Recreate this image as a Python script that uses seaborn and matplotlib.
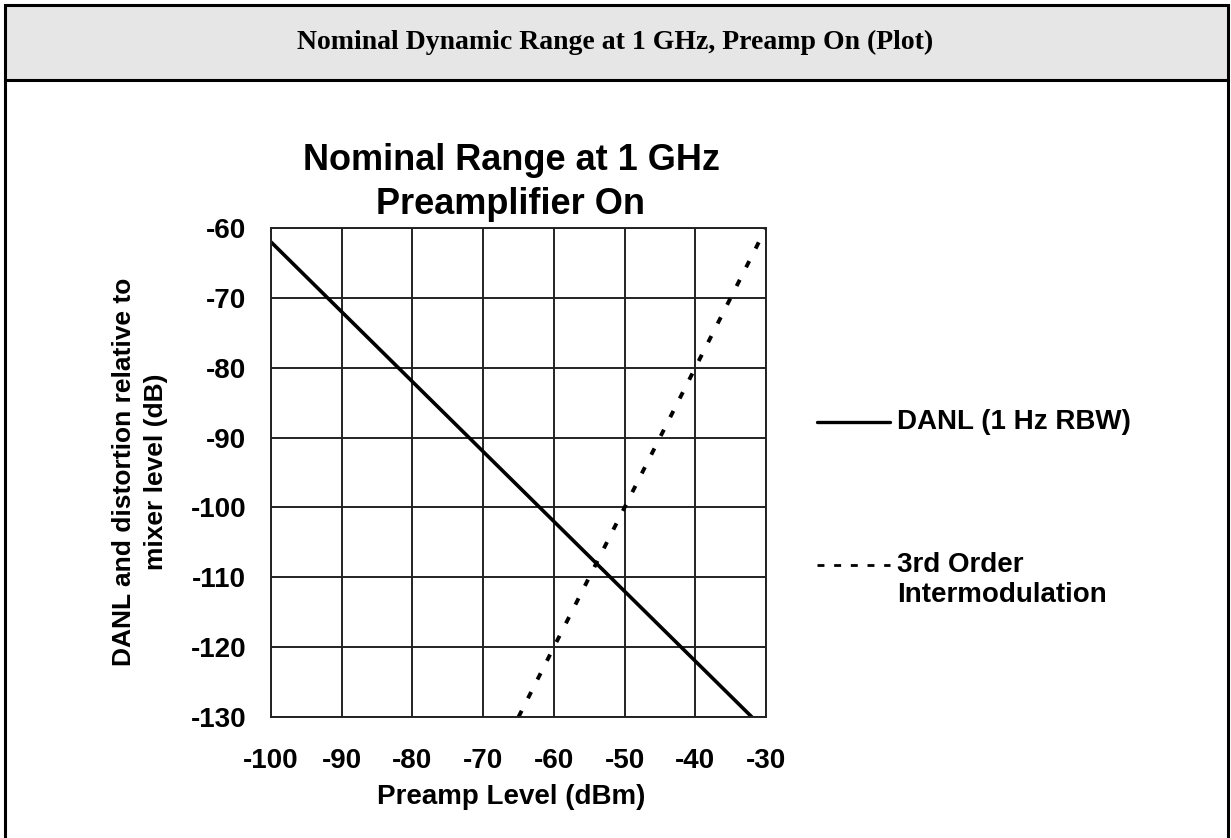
import matplotlib.pyplot as plt
import seaborn as sns
from matplotlib.lines import Line2D
from matplotlib.patches import Rectangle

sns.set_style('whitegrid', {'grid.color': '#222222', 'axes.edgecolor': '#222222',
                            'text.color': 'black', 'xtick.color': 'black',
                            'ytick.color': 'black', 'axes.labelcolor': 'black'})
plt.rcParams['font.family'] = ['Liberation Sans', 'DejaVu Sans']
plt.rcParams['axes.unicode_minus'] = False

# -----------------------------
# data
# -----------------------------
danl_level = [-100, -32]
danl_db = [-62, -130]
toi_level = [-65, -30]
toi_db = [-130, -60]
x_ticks = [-100, -90, -80, -70, -60, -50, -40, -30]
y_ticks = [-60, -70, -80, -90, -100, -110, -120, -130]
legend_labels = ['DANL (1 Hz RBW)', '3rd Order', 'Intermodulation']

W, H = 1231, 838
fig = plt.figure(figsize=(W / 100, H / 100), dpi=100)


def fx(px):
    return px / W


def fy(py):
    return 1 - py / H


# outer table frame + gray header
fig.add_artist(Rectangle((fx(5), fy(80)), fx(1228) - fx(5), fy(5) - fy(80),
                         transform=fig.transFigure, facecolor='#e6e6e6',
                         edgecolor='black', lw=2.2))
for xp in (5, 1228):
    fig.add_artist(Line2D([fx(xp), fx(xp)], [fy(80), fy(845)],
                          transform=fig.transFigure, color='black', lw=2.2))
fig.text(fx(615), fy(42), 'Nominal Dynamic Range at 1 GHz, Preamp On (Plot)',
         family=['Liberation Serif', 'DejaVu Serif'], weight='bold', size=20,
         ha='center', va='center', color='black')

# the chart
ax = fig.add_axes([fx(271), fy(717), fx(766) - fx(271), fy(228) - fy(717)])
sns.lineplot(x=danl_level, y=danl_db, ax=ax, color='black', lw=2.6)
sns.lineplot(x=toi_level, y=toi_db, ax=ax, color='black', lw=2.8,
             linestyle=(0, (1.8, 3.6)))
ax.set_xlim(-100, -30)
ax.set_ylim(-130, -60)
ax.set_xticks(x_ticks)
ax.set_yticks(y_ticks)
ax.grid(True, lw=1.4, color='#222222')
for s in ax.spines.values():
    s.set_linewidth(1.4)
    s.set_color('#222222')
ax.tick_params(axis='x', length=0, labelsize=20, pad=22, labelcolor='black')
ax.tick_params(axis='y', length=0, labelsize=20, pad=18, labelcolor='black')
for lbl in ax.get_xticklabels() + ax.get_yticklabels():
    lbl.set_fontweight('bold')
ax.set_xlabel('')
ax.set_ylabel('')

# titles / labels
fig.text(fx(511), fy(160), 'Nominal Range at 1 GHz', size=26, weight='bold',
         ha='center', va='center', color='black')
fig.text(fx(511), fy(204), 'Preamplifier On', size=26, weight='bold',
         ha='center', va='center', color='black')
fig.text(fx(511), fy(797), 'Preamp Level (dBm)', size=20, weight='bold',
         ha='center', va='center', color='black')
fig.text(fx(140), fy(472), 'DANL and distortion relative to\nmixer level (dB)',
         size=19, weight='bold', rotation=90, ha='center', va='center',
         multialignment='center', linespacing=1.4, color='black')

# legend drawn beside the axes
fig.add_artist(Line2D([fx(817), fx(890)], [fy(422), fy(422)],
                      transform=fig.transFigure, color='black', lw=2.4))
fig.add_artist(Line2D([fx(817), fx(890)], [fy(565), fy(565)],
                      transform=fig.transFigure, color='black', lw=2.0,
                      linestyle=(0, (2.5, 3.5))))
fig.text(fx(897), fy(422), legend_labels[0], size=20, weight='bold', va='center', color='black')
fig.text(fx(897), fy(565), legend_labels[1], size=20, weight='bold', va='center', color='black')
fig.text(fx(897), fy(595), legend_labels[2], size=20, weight='bold', va='center', color='black')

fig.savefig('out.png', dpi=100)
